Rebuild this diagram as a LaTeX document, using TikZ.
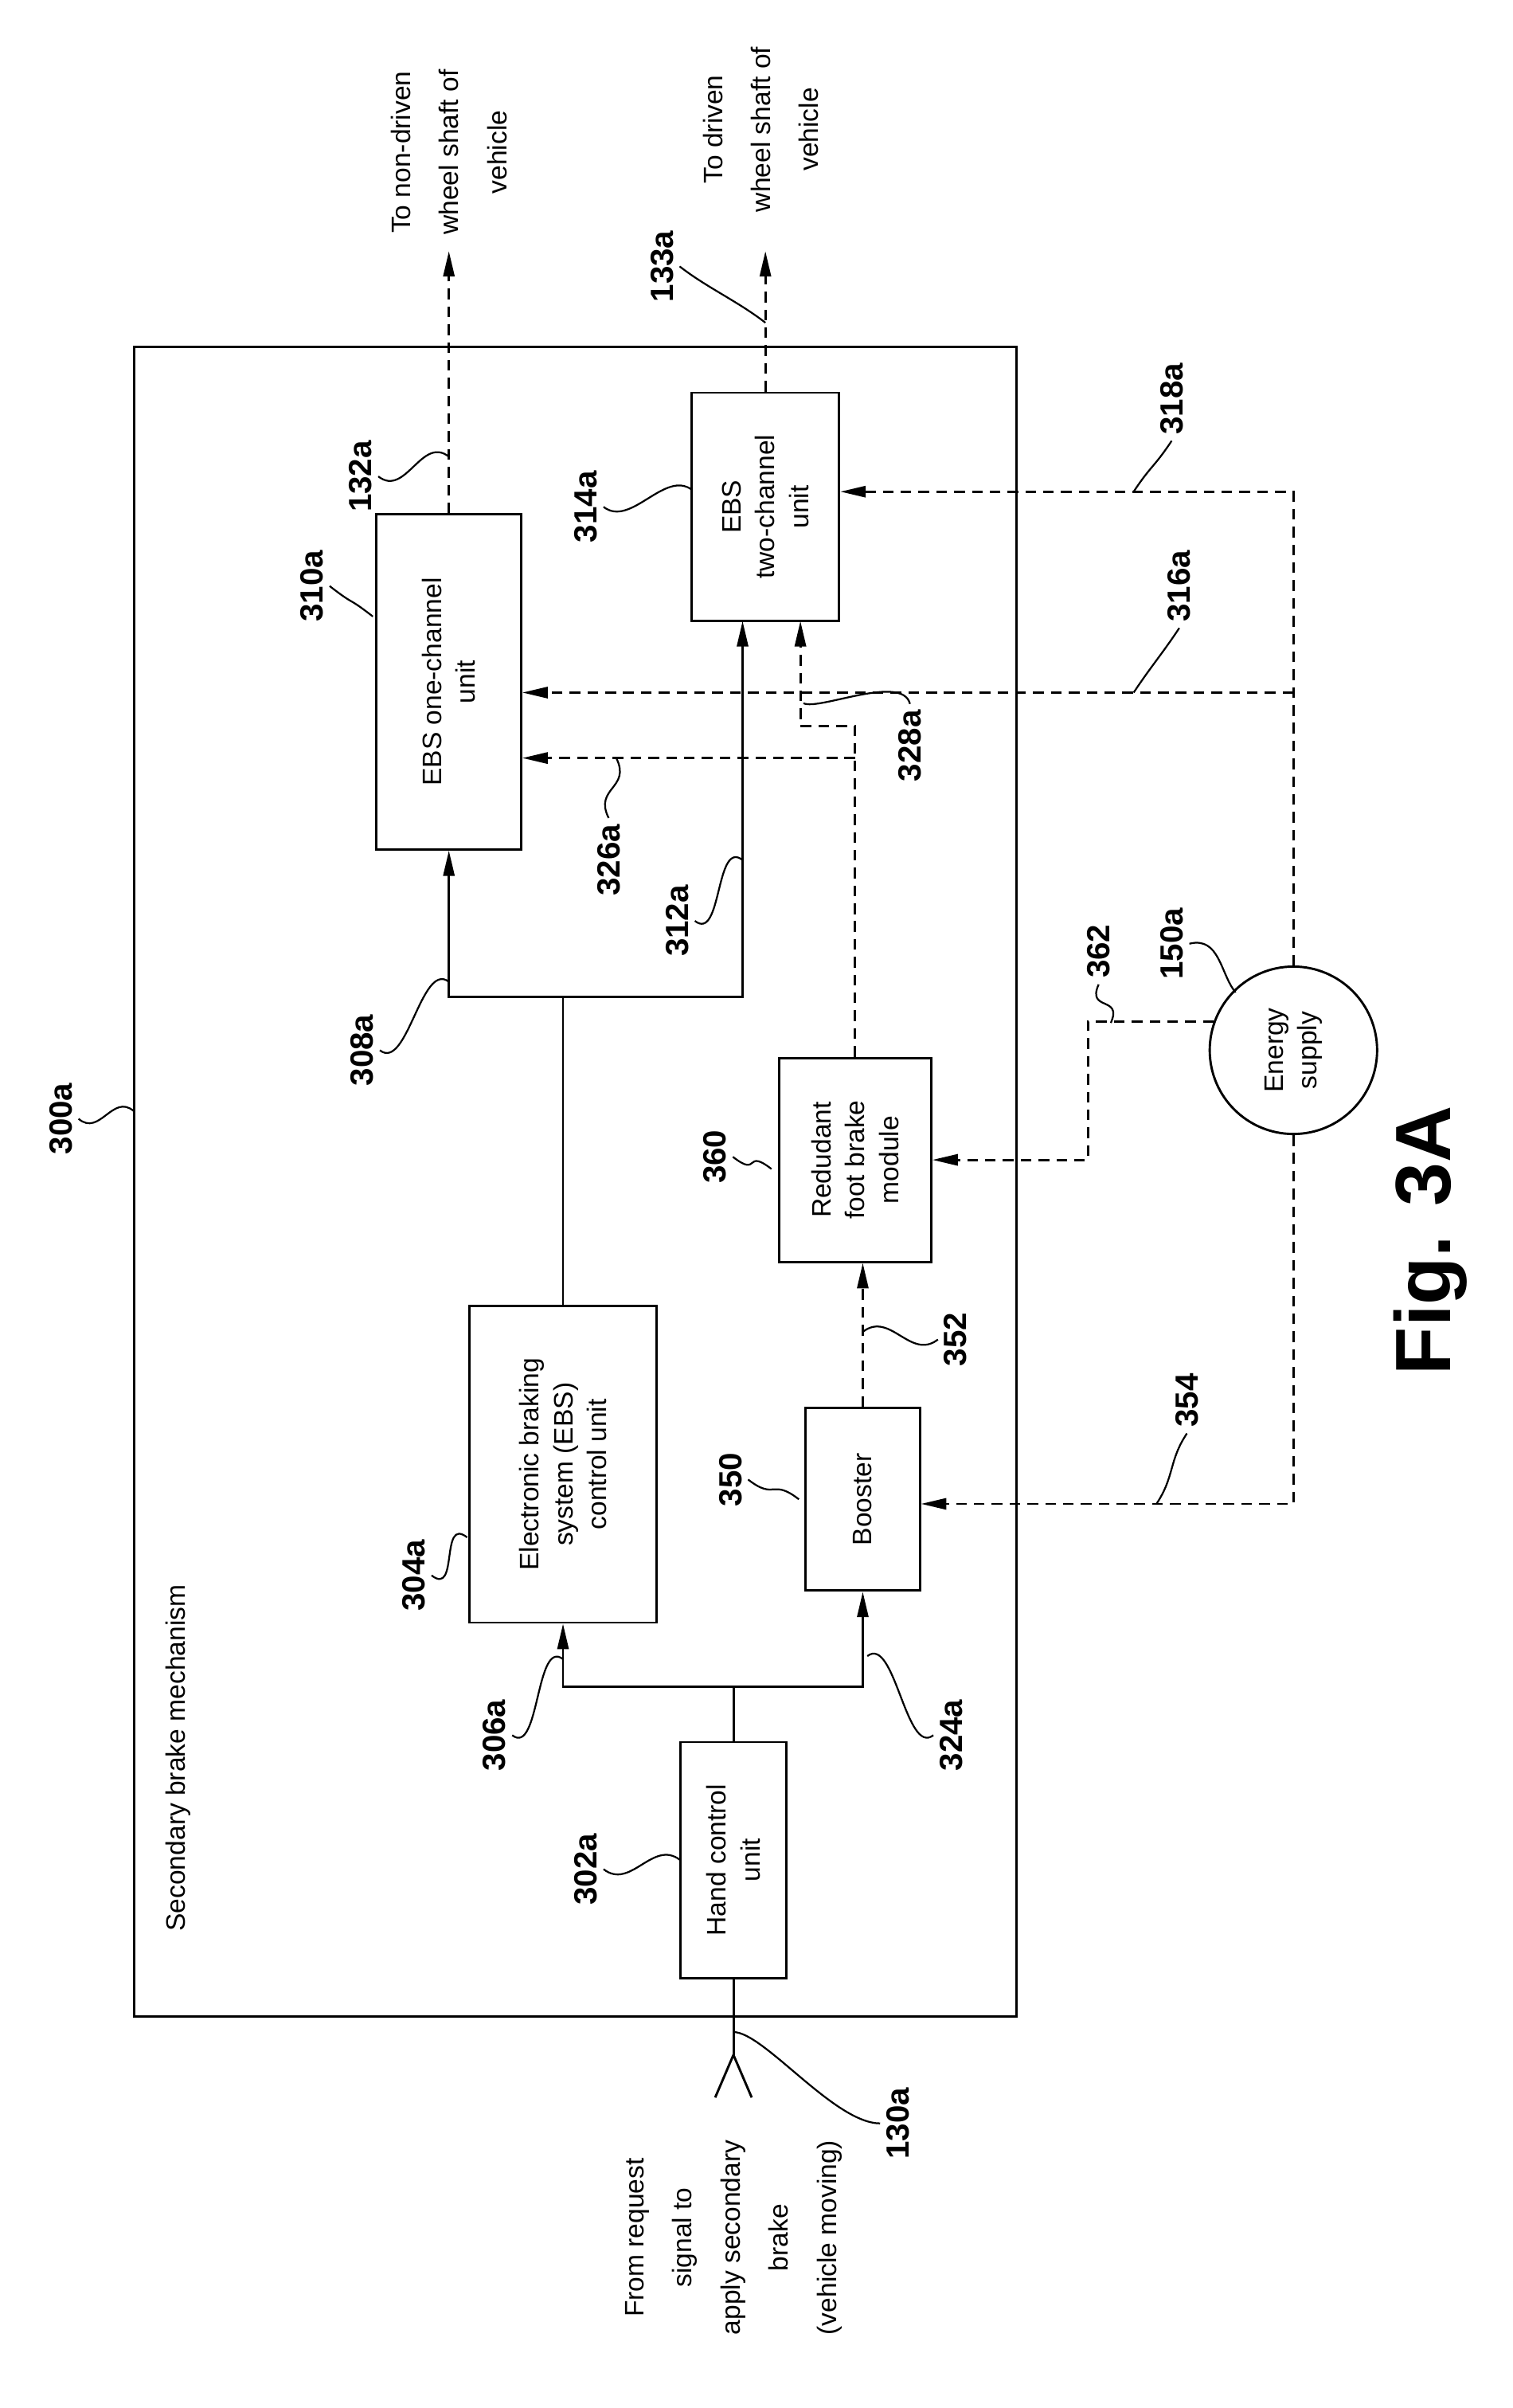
\documentclass[tikz,border=0pt]{standalone}
\usepackage{fontspec}
\setmainfont{Liberation Sans}
\usetikzlibrary{arrows.meta,positioning,calc}

\tikzset{
  unit/.style={draw, line width=1.3pt, rotate=90, align=center, inner sep=2pt,
    font=\fontsize{15}{19}\selectfont},
  ref/.style={rotate=90, font=\fontsize{18}{20}\selectfont\bfseries},
  arr/.style={line width=1.3pt, -{Triangle[length=5mm,width=2.2mm]}},
  dash arr/.style={arr, dash pattern=on 6pt off 4pt},
  lead/.style={line width=1pt}
}

\begin{document}
\begin{tikzpicture}[x=0.03cm,y=-0.03cm]
  \useasboundingbox (0,0) rectangle (994,1582);
  % Mechanism frame
  \draw[line width=1.3pt] (88,228) rectangle (668,1325);
  \node[rotate=90, font=\fontsize{15}{19}\selectfont] at (117,1155) {Secondary brake mechanism};

  % Units
  \node[unit, minimum width=4.65cm, minimum height=2.1cm] (hand) at (482,1222) {Hand control\\unit};
  \node[unit, minimum width=6.24cm, minimum height=3.69cm] (ebs) at (370,962) {Electronic braking\\system (EBS)\\control unit};
  \node[unit, minimum width=3.6cm, minimum height=2.25cm] (boost) at (567,985) {Booster};
  \node[unit, minimum width=4.02cm, minimum height=3cm] (foot) at (562,762) {Redudant\\foot brake\\module};
  \node[unit, minimum width=6.6cm, minimum height=2.85cm] (one) at (295,448) {EBS one-channel\\unit};
  \node[unit, minimum width=4.5cm, minimum height=2.91cm] (two) at (503,333) {EBS\\two-channel\\unit};
  \node[unit, circle, minimum size=3.3cm, inner sep=0pt] (es) at (850,690) {Energy\\supply};

  % Free ends and joints
  \coordinate (split) at (482,1108);
  \coordinate (fork) at (370,655);
  \coordinate (twoin1) at (488,408);
  \coordinate (twoin2) at (526,408);
  \coordinate (j1) at (562,477);
  \coordinate (j2) at (526,477);
  \coordinate (b326) at (562,498);
  \coordinate (etop) at (850,323);
  \coordinate (e316) at (850,455);
  \coordinate (ebot) at (850,988);
  \coordinate (e362) at (715,672);
  \coordinate (out1) at (295,165);
  \coordinate (in0) at (482,1350);

  % Solid signal lines
  \draw[line width=1.3pt] (in0) -- (hand.west);
  \draw[line width=1.3pt] (in0) -- (470,1378);
  \draw[line width=1.3pt] (in0) -- (494,1378);
  \draw[line width=1.3pt] (hand.east) -- (split);
  \draw[arr] (split) -| (ebs.west);
  \draw[arr] (split) -| (boost.west);
  \draw[line width=1.3pt] (ebs.east) -- (fork);
  \draw[arr] (fork) -| (one.west);
  \draw[arr] (fork) -| (twoin1);

  % Dashed lines
  \draw[dash arr] (boost.east) -- (boost.east |- foot.west);
  \draw[dash arr] (foot.east) -- (j1) -- (j2) -- (twoin2);
  \draw[dash arr] (b326) -- (b326 -| one.south);
  \draw[dash arr] (es.east) -- (etop) -- (etop -| two.south);
  \draw[dash arr] (e316) -- (e316 -| one.south);
  \draw[dash arr] (es.west) -- (ebot) -- (ebot -| boost.south);
  \draw[dash arr] (es.70) -- (es.70 -| e362) |- (foot.south);
  \draw[dash arr] (one.east) -- (out1);
  \draw[dash arr] (two.east) -- (two.east |- out1);

  % Outside texts
  \node[rotate=90, align=center, font=\fontsize{15}{27}\selectfont] at (295,100) {To non-driven\\wheel shaft of\\vehicle};
  \node[rotate=90, align=center, font=\fontsize{15}{27}\selectfont] at (500,85) {To driven\\wheel shaft of\\vehicle};
  \node[rotate=90, align=center, font=\fontsize{15}{27}\selectfont] at (482,1470) {From request\\signal to\\apply secondary\\brake\\(vehicle moving)};
  \node[rotate=90, font=\fontsize{44}{48}\selectfont\bfseries] at (940,815) {Fig. 3A};

  % Reference numerals
  \node[ref] (l300) at (40,735) {300a};
  \node[ref] (l302) at (385,1228) {302a};
  \node[ref] (l304) at (272,1035) {304a};
  \node[ref] (l306) at (325,1140) {306a};
  \node[ref] (l324) at (625,1140) {324a};
  \node[ref] (l308) at (238,690) {308a};
  \node[ref] (l310) at (205,385) {310a};
  \node[ref] (l312) at (445,605) {312a};
  \node[ref] (l326) at (400,565) {326a};
  \node[ref] (l328) at (598,490) {328a};
  \node[ref] (l314) at (385,333) {314a};
  \node[ref] (l316) at (775,385) {316a};
  \node[ref] (l318) at (770,262) {318a};
  \node[ref] (l132) at (237,313) {132a};
  \node[ref] (l133) at (435,175) {133a};
  \node[ref] (l150) at (770,620) {150a};
  \node[ref] (l362) at (722,625) {362};
  \node[ref] (l360) at (470,760) {360};
  \node[ref] (l350) at (480,972) {350};
  \node[ref] (l352) at (628,880) {352};
  \node[ref] (l354) at (780,920) {354};
  \node[ref] (l130) at (590,1395) {130a};

  % Leaders
  \draw[lead] (l300.south) .. controls +(14,12) and +(-14,-12) .. (88,730);
  \draw[lead] (l302.south) .. controls +(18,14) and +(-18,-14) .. (447,1222);
  \draw[lead] (l304.south) .. controls +(18,14) and +(-18,-14) .. (307,1010);
  \draw[lead] (l306.south) .. controls +(18,14) and +(-18,-14) .. (370,1090);
  \draw[lead] (l324.north) .. controls +(-18,14) and +(18,-14) .. (570,1088);
  \draw[lead] (l308.south) .. controls +(18,14) and +(-18,-14) .. (295,645);
  \draw[lead] (l310.south) .. controls +(18,14) and +(-18,-14) .. (245,405);
  \draw[lead] (l312.south) .. controls +(18,14) and +(-18,-14) .. (488,565);
  \draw[lead] (l326.east) .. controls +(-10,-20) and +(10,20) .. (405,498);
  \draw[lead] (l328.east) .. controls +(-5,-20) and +(10,5) .. (528,462);
  \draw[lead] (l314.south) .. controls +(18,14) and +(-18,-14) .. (455,322);
  \draw[lead] (l316.west) .. controls +(-12,18) and +(12,-18) .. (745,455);
  \draw[lead] (l318.west) .. controls +(-12,18) and +(12,-18) .. (745,323);
  \draw[lead] (l132.south) .. controls +(18,14) and +(-18,-14) .. (295,300);
  \draw[lead] (l133.south) .. controls +(18,14) and +(-18,-14) .. (503,212);
  \draw[lead] (l150.south) .. controls +(20,-5) and +(-10,-12) .. (812,652);
  \draw[lead] (l362.west) .. controls +(-8,18) and +(8,-18) .. (730,672);
  \draw[lead] (l360.south) .. controls +(18,14) and +(-18,-14) .. (507,768);
  \draw[lead] (l350.south) .. controls +(18,14) and +(-18,-14) .. (525,985);
  \draw[lead] (l352.north) .. controls +(-18,14) and +(18,-14) .. (567,875);
  \draw[lead] (l354.west) .. controls +(-12,18) and +(12,-18) .. (760,988);
  \draw[lead] (l130.north) .. controls +(-30,0) and +(20,0) .. (482,1335);
\end{tikzpicture}
\end{document}
